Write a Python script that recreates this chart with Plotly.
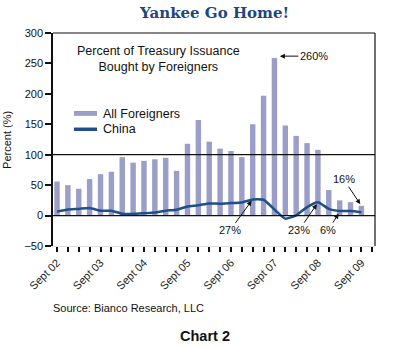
import plotly.graph_objects as go

quarters = ["Sep 02", "Dec 02", "Mar 03", "Jun 03", "Sep 03", "Dec 03", "Mar 04", "Jun 04",
            "Sep 04", "Dec 04", "Mar 05", "Jun 05", "Sep 05", "Dec 05", "Mar 06", "Jun 06",
            "Sep 06", "Dec 06", "Mar 07", "Jun 07", "Sep 07", "Dec 07", "Mar 08", "Jun 08",
            "Sep 08", "Dec 08", "Mar 09", "Jun 09", "Sep 09"]
all_foreigners = [56, 50, 44, 60, 68, 72, 96, 87, 90, 92.5, 95, 73.5, 118, 157, 121.5, 110,
                  106, 96, 150, 197, 259, 148, 131, 119, 108, 42, 25, 22, 16]
china = [6.5, 10, 11, 12.4, 8, 8, 3, 2.7, 3.8, 5, 8, 9.7, 15, 17, 20, 19.5,
         20.5, 21.5, 26.5, 26, 10, -5, 0.5, 14, 22, 11, 7.5, 7.5, 5.5]
tick_labels = ["Sept 02", "Sept 03", "Sept 04", "Sept 05", "Sept 06", "Sept 07", "Sept 08", "Sept 09"]

BAR = "#9b9ec6"
LINE = "#1f4e88"
FONT = "Liberation Sans, Arial, sans-serif"

xs = list(range(len(quarters)))
tickvals = list(range(len(quarters) + 1))
ticktext = [""] * len(tickvals)
for i, lab in enumerate(tick_labels):
    ticktext[i * 4] = lab

fig = go.Figure()
fig.add_trace(go.Bar(x=xs, y=all_foreigners, width=0.5, marker=dict(color=BAR, line=dict(width=0)),
                     name="All Foreigners", hovertext=quarters, showlegend=False))
fig.add_trace(go.Scatter(x=xs, y=china, mode="lines", name="China",
                         line=dict(color=LINE, width=2.5, shape="spline", smoothing=0.5),
                         hovertext=quarters, showlegend=False))

fig.update_layout(
    width=420, height=348,
    margin=dict(l=53, r=45, t=33, b=102, pad=0),
    paper_bgcolor="white", plot_bgcolor="white",
    font=dict(family=FONT, size=11, color="#111"),
    bargap=0.5,
    xaxis=dict(range=[-0.37, 29.25], tickmode="array", tickvals=tickvals, ticktext=ticktext,
               tickangle=-45, ticks="outside", ticklen=5, tickwidth=1.5, tickcolor="#111",
               showline=True, linecolor="#e0e0e0", linewidth=1, showgrid=False, zeroline=False,
               tickfont=dict(size=11, family=FONT, color="#222")),
    yaxis=dict(range=[-50, 300], tickmode="array", tickvals=[-50, 0, 50, 100, 150, 200, 250, 300],
               ticks="outside", ticklen=6, tickwidth=1.5, tickcolor="#111",
               showline=True, linecolor="#111", linewidth=1.5, showgrid=False, zeroline=False,
               tickfont=dict(size=11, family=FONT, color="#111")),
)

# reference lines at 0 and 100, top and right border
for yv in (0, 100):
    fig.add_shape(type="line", xref="paper", yref="y", x0=0, x1=1, y0=yv, y1=yv,
                  line=dict(color="#111", width=1.2), layer="above")
fig.add_shape(type="line", xref="paper", yref="paper", x0=0, x1=1, y0=1, y1=1,
              line=dict(color="#111", width=1.2))
fig.add_shape(type="line", xref="paper", yref="paper", x0=1, x1=1, y0=0, y1=1,
              line=dict(color="#111", width=1.2))

# legend swatches
fig.add_shape(type="rect", xref="paper", yref="paper", x0=0.0652, x1=0.1366, y0=0.611, y1=0.634,
              fillcolor=BAR, line=dict(width=0))
fig.add_shape(type="line", xref="paper", yref="paper", x0=0.0652, x1=0.1366, y0=0.548, y1=0.548,
              line=dict(color=LINE, width=3.5))

annos = [
    dict(text="All Foreigners", x=0.149, y=0.622, xanchor="left", size=12.5),
    dict(text="China", x=0.149, y=0.548, xanchor="left", size=12.5),
    dict(text="Percent of Treasury Issuance<br>Bought by Foreigners", x=0.329, y=0.879,
         xanchor="center", size=12.5),
    dict(text="Source: Bianco Research, LLC", x=-0.007, y=-0.292, xanchor="left", size=11),
]
for a in annos:
    fig.add_annotation(text=a["text"], x=a["x"], y=a["y"], xref="paper", yref="paper",
                       xanchor=a["xanchor"], yanchor="middle", showarrow=False,
                       font=dict(size=a["size"], family=FONT, color="#111"))

fig.add_annotation(text="<b>Chart 2</b>", x=0.472, y=-0.4225, xref="paper", yref="paper",
                   xanchor="center", yanchor="middle",
                   showarrow=False, font=dict(size=14.5, family=FONT, color="#111"))
fig.add_annotation(text="<b>Yankee Go Home!</b>", x=0.5, y=1.095, xref="paper", yref="paper",
                   xanchor="center", yanchor="middle",
                   showarrow=False, font=dict(size=15, family="DejaVu Serif, serif", color="#21457f"))
fig.add_annotation(text="Percent (%)", x=-0.143, y=0.498, xref="paper", yref="paper",
                   xanchor="center", yanchor="middle",
                   textangle=-90, showarrow=False, font=dict(size=11, family=FONT, color="#111"))

# arrow callouts
callouts = [
    ("260%", 20.5, 262, 34, 0),
    ("27%", 17.9, 24.3, -21.7, 29.7),
    ("23%", 23.9, 18.8, -17.7, 26),
    ("6%", 25.9, 3.3, -10.3, 16.6),
    ("16%", 27.9, 18.7, -16.7, -25),
]
for txt, x, y, ax, ay in callouts:
    fig.add_annotation(text=txt, x=x, y=y, xref="x", yref="y", ax=ax, ay=ay,
                       showarrow=True, arrowhead=2, arrowsize=1, arrowwidth=1, arrowcolor="#111",
                       font=dict(size=11, family=FONT, color="#111"))

fig.write_html("out.html")
